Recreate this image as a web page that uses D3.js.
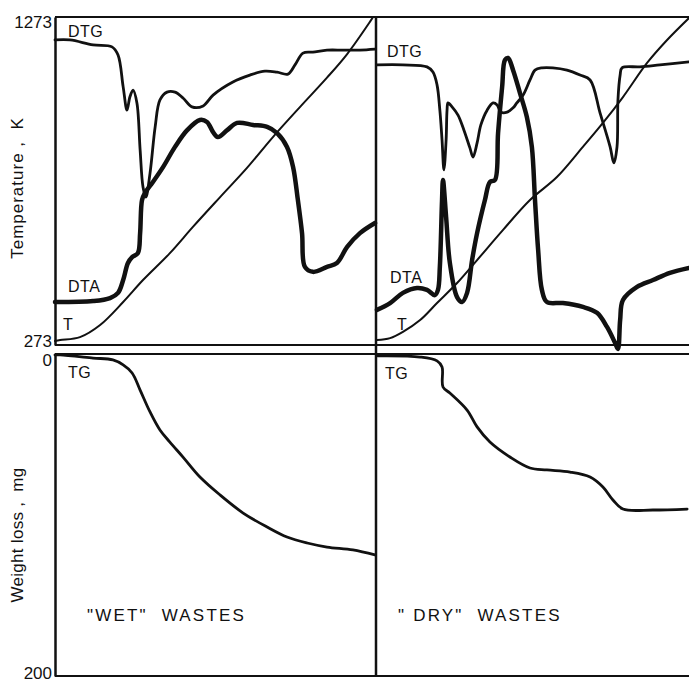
<!DOCTYPE html>
<html>
<head>
<meta charset="utf-8">
<script src="https://cdn.jsdelivr.net/npm/d3@7"></script>
<style>
  body { margin: 0; background: #fff; }
  text { font-family: "Liberation Sans", Arial, sans-serif; fill: #111; }
</style>
</head>
<body>
<svg id="chart" width="689" height="683"></svg>
<script>
// time runs 0..100 across each run; DTA / DTG are relative signals (0..100 of panel height)
// T in K, TG in mg

const wetT = [[0,285],[1.6,288],[7.8,297],[14.1,334],[21.3,404],[27.5,471],[35.9,553],[43.1,633],
  [51.6,724],[60,813],[68.1,907],[76.6,999],[85,1088],[91.3,1160],[98.4,1258],[99.4,1273]];
const wetDTA = [[0,13.1],[11.9,13.4],[17.2,14.3],[19.7,15.9],[21.3,19.8],[22.8,25],[24.1,26.8],[25.9,28],
  [26.6,34.1],[27.2,44.2],[28.1,46.3],[30.6,49.7],[33.8,54.3],[37.5,60.4],[41.3,65.5],[45.3,68.6],
  [47.5,68],[49.4,64.9],[50.9,63.4],[53.8,65.5],[56.9,67.7],[61.9,67.1],[66.3,66.5],[69.4,64.6],
  [72.5,60.4],[74.4,54.3],[75.9,44.2],[77.2,34.1],[78.1,23.8],[80.6,22.3],[85,23.8],[88.1,25],
  [91.3,29.9],[95.3,34.1],[100,37.2]];
const wetDTG = [[0,93],[4.7,93],[11.9,91.5],[17.8,90.9],[19.7,88.4],[21.3,78.7],[22.5,71.6],[23.4,75.6],
  [24.4,77.7],[25.6,73.8],[26.6,59.5],[27.5,48.2],[28.4,45.1],[29.7,52.4],[31.3,66.5],[32.8,74.7],
  [35,77.1],[37.5,77.1],[40,75.3],[42.8,72.6],[46.3,72.9],[49.4,76.2],[55.6,80.2],[60.9,82.3],
  [65.6,83.5],[69.4,83.2],[72.8,82.6],[75,85.4],[77.5,89],[80.6,89.3],[85,89.9],[90,89.9],
  [95.3,89.9],[100,90.2]];
const wetTG = [[0,0.6],[1.6,0.6],[11.9,2.5],[18.1,3.7],[21.3,6.8],[24.1,11.8],[26.6,22.4],[29.7,36],
  [32.8,47.2],[35.9,54.7],[40,64],[45.3,76.4],[51.6,87.6],[58.8,98.8],[66.3,107.5],[72.5,113.7],
  [78.8,117.4],[85,119.9],[93.1,121.7],[100,124.8]];

const dryT = [[0.3,288],[4.5,294],[8.6,313],[14.1,349],[19.5,401],[25.9,462],[32.3,532],[40.6,624],
  [49.2,715],[57.8,785],[66.1,877],[72.5,950],[78.9,1029],[86.6,1133],[93,1203],[100,1270]];
const dryDTA = [[0.3,10.7],[4.5,12.8],[8.6,15.9],[13.1,17.4],[16.3,16.8],[18.8,15.2],[19.8,16.8],
  [20.4,23.8],[21.1,44.2],[21.4,50.3],[22.4,39],[23.6,25],[25.9,14.6],[27.5,13.1],[29.1,15.9],
  [30.7,25.9],[32.3,34.1],[34.8,44.2],[36.4,49.7],[38,50.3],[39,64.6],[40.3,78.7],[41.2,86.9],
  [42.2,87.5],[43.8,83.8],[46,76.8],[48.2,69.5],[49.8,60.4],[50.8,44.2],[51.8,29],[53,16.8],
  [54.6,13.1],[59.7,12.8],[66.1,11.6],[70.6,9.8],[73.8,5.5],[76.4,0.6],[77.3,-1.2],[78,7.6],
  [78.9,13.7],[83.4,17.7],[88.5,19.8],[93.9,22],[100,23.5]];
const dryDTG = [[0.3,85.4],[8.6,85.4],[16.3,84.8],[18.2,83.2],[19.5,79.3],[20.4,71.6],[21.1,62.5],
  [21.7,53.4],[22.4,62.5],[22.7,71.6],[23,73.8],[24.3,72.6],[26.2,70.1],[28.1,65.5],[30,60.1],
  [31,57.3],[32.3,61.6],[33.5,67.1],[35.5,71.6],[37.4,73.8],[38.7,73.2],[39.9,71],[41.9,71],
  [43.8,72.3],[45,73.8],[47,76.2],[49.2,80.8],[50.8,83.8],[53,84.5],[56.5,84.5],[61,83.8],
  [65.2,82.3],[68.4,80.8],[71.6,70.7],[74.8,60.4],[76,55.5],[77,60.4],[77.3,74.7],[78,82.3],
  [78.6,84.5],[84.3,84.8],[90.7,85.4],[100,86.3]];
const dryTG = [[0.6,1.2],[14.1,1.9],[19.5,4.3],[21.1,8.1],[21.4,20.5],[23.6,24.2],[29.1,34.8],
  [32.3,45.3],[36.4,54.7],[42.8,64],[49.2,70.8],[54.6,72],[62,73.3],[68.4,76.4],[72.5,82.6],
  [75.7,90.7],[78.9,96.3],[88.5,96.9],[99.4,96.3]];

const tempTicks = [273, 1273];
const tgTicks = [0, 200];

const panels = [
  {title: '"WET"  WASTES', x0: 55, x1: 375, T: wetT, dta: wetDTA, dtg: wetDTG, tg: wetTG,
   lab: {dtg: [68, 37], dta: [68, 292], t: [63, 330], tg: [68, 378], title: [87, 621]}},
  {title: '" DRY"  WASTES', x0: 376, x1: 689, T: dryT, dta: dryDTA, dtg: dryDTG, tg: dryTG,
   lab: {dtg: [387, 57], dta: [390, 283], t: [397, 330], tg: [385, 379], title: [398, 621]}}
];

const svg = d3.select("#chart");

const topY = 17, topB = 345, botT = 354, botB = 676, left = 55, right = 689;

const tempY = d3.scaleLinear().domain([273, 1273]).range([topB, topY]);
const sigY = d3.scaleLinear().domain([0, 100]).range([topB, topY]);
const tgY = d3.scaleLinear().domain([0, 200]).range([botT, botB]);

// frame
const frame = svg.append("g").attr("stroke", "#111").attr("fill", "none");
[topY, topB, botT].forEach(y => frame.append("line").attr("x1", left).attr("x2", right)
  .attr("y1", y).attr("y2", y).attr("stroke-width", 1.8));
frame.append("line").attr("x1", left).attr("x2", right).attr("y1", botB).attr("y2", botB).attr("stroke-width", 2);
frame.append("line").attr("x1", 376).attr("x2", 376).attr("y1", topY).attr("y2", botB).attr("stroke-width", 2.5);

// left axes
const axT = svg.append("g").attr("transform", `translate(${left},0)`)
  .call(d3.axisLeft(tempY).tickValues(tempTicks).tickFormat(d3.format("d"))
    .tickSize(0).tickSizeOuter(0).tickPadding(3));
const axW = svg.append("g").attr("transform", `translate(${left},0)`)
  .call(d3.axisLeft(tgY).tickValues(tgTicks).tickFormat(d3.format("d"))
    .tickSize(0).tickSizeOuter(0).tickPadding(3));
[axT, axW].forEach(a => {
  a.select(".domain").attr("stroke", "#111").attr("stroke-width", 2.5);
  a.selectAll("text").attr("font-size", 17).attr("font-family", "Liberation Sans, Arial, sans-serif").attr("fill", "#111");
});
axT.selectAll("text").filter(d => d === 1273).attr("dy", "0.6em");
axT.selectAll("text").filter(d => d === 273).attr("dy", "0.1em");
axW.selectAll("text").filter(d => d === 0).attr("dy", "0.7em");
axW.selectAll("text").filter(d => d === 200).attr("dy", "0.15em");

// axis titles
svg.append("text").attr("transform", "translate(23,188) rotate(-90)").attr("text-anchor", "middle")
  .attr("font-size", 17).attr("letter-spacing", 1).style("white-space", "pre").text("Temperature ,  K");
svg.append("text").attr("transform", "translate(23,535) rotate(-90)").attr("text-anchor", "middle")
  .attr("font-size", 17).attr("letter-spacing", 0.3).style("white-space", "pre").text("Weight loss ,  mg");

panels.forEach(p => {
  const x = d3.scaleLinear().domain([0, 100]).range([p.x0, p.x1]);
  const curve = d3.curveCatmullRom.alpha(0.5);
  const lineSig = d3.line().x(d => x(d[0])).y(d => sigY(d[1])).curve(curve);
  const lineT = d3.line().x(d => x(d[0])).y(d => tempY(d[1])).curve(curve);
  const lineTG = d3.line().x(d => x(d[0])).y(d => tgY(d[1])).curve(curve);
  const g = svg.append("g").attr("fill", "none").attr("stroke", "#111")
    .attr("stroke-linejoin", "round").attr("stroke-linecap", "round");
  g.append("path").attr("d", lineT(p.T)).attr("stroke-width", 2);
  g.append("path").attr("d", lineSig(p.dtg)).attr("stroke-width", 2.8);
  g.append("path").attr("d", lineSig(p.dta)).attr("stroke-width", 4.5);
  g.append("path").attr("d", lineTG(p.tg)).attr("stroke-width", 2.8);

  const labels = [["DTG", p.lab.dtg], ["DTA", p.lab.dta], ["T", p.lab.t], ["TG", p.lab.tg]];
  labels.forEach(([s, pos]) => svg.append("text").attr("x", pos[0]).attr("y", pos[1])
    .attr("font-size", 16).attr("letter-spacing", 0.5).text(s));
  svg.append("text").attr("x", p.lab.title[0]).attr("y", p.lab.title[1])
    .attr("font-size", 17).attr("letter-spacing", 2.2).style("white-space", "pre").text(p.title);
});
</script>
</body>
</html>
